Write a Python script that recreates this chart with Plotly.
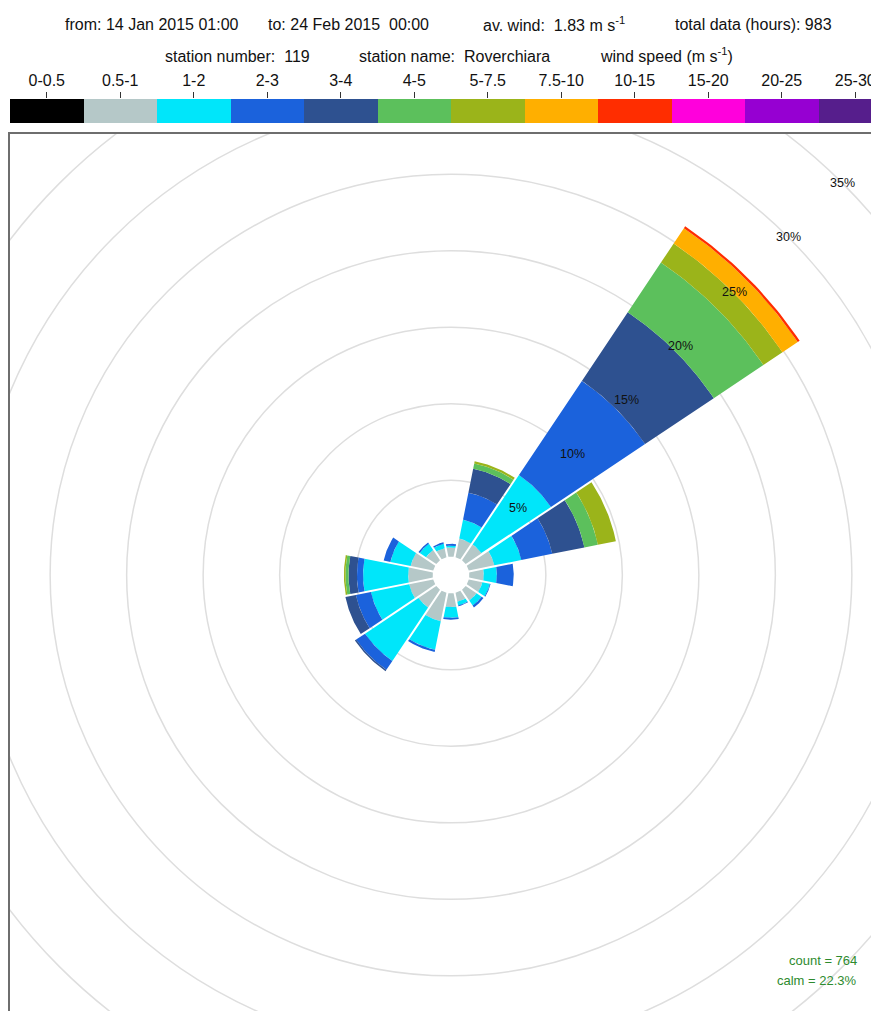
import math
import plotly.graph_objects as go

# ---------------- data ----------------
directions = [0.0, 22.5, 45.0, 67.5, 90.0, 112.5, 135.0, 157.5,
              180.0, 202.5, 225.0, 247.5, 270.0, 292.5, 315.0, 337.5]
speed_bins = ["0-0.5", "0.5-1", "1-2", "2-3", "3-4", "4-5",
              "5-7.5", "7.5-10", "10-15", "15-20", "20-25", "25-30"]
bin_colors = ["#000000", "#B5C8C8", "#00E6FA", "#1B62DC", "#2E5190", "#5CC05C",
              "#9BB41A", "#FFAF00", "#FF2D00", "#FF00DC", "#9600D2", "#561E8C"]

# percentage of time per direction (N, NNE, NE, ... NNW) for each speed bin
pct_0_0p5 =   [0.00, 0.00, 0.00, 0.00, 0.00, 0.00, 0.00, 0.00, 0.00, 0.00, 0.00, 0.00, 0.00, 0.00, 0.00, 0.00]
pct_0p5_1 =   [0.60, 1.24, 1.25, 1.70, 0.94, 0.90, 0.85, 0.60, 0.90, 1.90, 1.40, 1.60, 1.60, 1.50, 0.80, 0.60]
pct_1_2 =     [0.12, 1.26, 5.45, 1.80, 0.86, 0.50, 0.40, 0.25, 0.70, 1.90, 4.20, 2.55, 2.95, 1.35, 0.50, 0.30]
pct_2_3 =     [0.12, 1.80, 7.40, 2.06, 1.10, 0.05, 0.15, 0.05, 0.12, 0.15, 0.70, 1.00, 0.40, 0.45, 0.10, 0.10]
pct_3_4 =     [0.00, 1.60, 5.40, 2.14, 0.00, 0.00, 0.00, 0.00, 0.00, 0.00, 0.10, 0.70, 0.55, 0.00, 0.00, 0.00]
pct_4_5 =     [0.00, 0.35, 3.90, 0.90, 0.00, 0.00, 0.00, 0.00, 0.00, 0.00, 0.00, 0.00, 0.20, 0.00, 0.00, 0.00]
pct_5_7p5 =   [0.00, 0.15, 1.50, 1.20, 0.00, 0.00, 0.00, 0.00, 0.00, 0.00, 0.00, 0.00, 0.10, 0.00, 0.00, 0.00]
pct_7p5_10 =  [0.00, 0.00, 1.20, 0.00, 0.00, 0.00, 0.00, 0.00, 0.00, 0.00, 0.00, 0.00, 0.00, 0.00, 0.00, 0.00]
pct_10_15 =   [0.00, 0.00, 0.15, 0.00, 0.00, 0.00, 0.00, 0.00, 0.00, 0.00, 0.00, 0.00, 0.00, 0.00, 0.00, 0.00]
pct_15_20 =   [0.00, 0.00, 0.00, 0.00, 0.00, 0.00, 0.00, 0.00, 0.00, 0.00, 0.00, 0.00, 0.00, 0.00, 0.00, 0.00]
pct_20_25 =   [0.00, 0.00, 0.00, 0.00, 0.00, 0.00, 0.00, 0.00, 0.00, 0.00, 0.00, 0.00, 0.00, 0.00, 0.00, 0.00]
pct_25_30 =   [0.00, 0.00, 0.00, 0.00, 0.00, 0.00, 0.00, 0.00, 0.00, 0.00, 0.00, 0.00, 0.00, 0.00, 0.00, 0.00]

grid_pcts = [5, 10, 15, 20, 25, 30, 35]
count_text = "count = 764"
calm_text = "calm = 22.3%"

series = [pct_0_0p5, pct_0p5_1, pct_1_2, pct_2_3, pct_3_4, pct_4_5,
          pct_5_7p5, pct_7p5_10, pct_10_15, pct_15_20, pct_20_25, pct_25_30]

# ---------------- layout geometry (reference pixels) ----------------
OFF = 8                 # default body margin of the html page
FIG_W, FIG_H = 879 - OFF, 1011 - OFF
ML = 2
S = 15.3                # pixels per percent
HOLE = 1.2              # inner hole (percent units)
CX, CY = 451, 575       # rose centre
FRAME_L, FRAME_T = 10, 134
CB_T, CB_B = 99, 123
FONT = "Liberation Sans, Arial, Helvetica"


def paper_x(X):
    return (X - OFF - ML) / (FIG_W - ML)


def paper_y(Y):
    return 1 - (Y - OFF) / FIG_H


def wedge(theta_c, r_lo, r_hi, half=11.25, gap=0.065, n=30):
    def a(r):
        return half - math.degrees(math.asin(min(1.0, gap / r)))
    xs, ys = [], []
    ao, ai = a(r_hi), a(r_lo)
    for i in range(n + 1):
        t = math.radians(theta_c - ao + 2 * ao * i / n)
        xs.append(r_hi * math.sin(t)); ys.append(r_hi * math.cos(t))
    for i in range(n + 1):
        t = math.radians(theta_c + ai - 2 * ai * i / n)
        xs.append(r_lo * math.sin(t)); ys.append(r_lo * math.cos(t))
    xs.append(xs[0]); ys.append(ys[0])
    return xs, ys


fig = go.Figure()

cum = [0.0] * len(directions)
for b, vals in enumerate(series):
    xs, ys = [], []
    for d, th in enumerate(directions):
        v = vals[d]
        if v > 0:
            wx, wy = wedge(th, HOLE + cum[d], HOLE + cum[d] + v)
            xs += wx + [None]; ys += wy + [None]
        cum[d] += v
    if xs:
        fig.add_trace(go.Scatter(x=xs, y=ys, mode="lines", fill="toself",
                                 fillcolor=bin_colors[b],
                                 line=dict(width=0, color=bin_colors[b]),
                                 name=speed_bins[b], hoverinfo="skip",
                                 showlegend=False, xaxis="x", yaxis="y"))

# colour key as a bar strip
fig.add_trace(go.Bar(x=list(range(len(speed_bins))), y=[1] * len(speed_bins),
                     width=[1] * len(speed_bins), marker=dict(color=bin_colors, line=dict(width=0)),
                     xaxis="x2", yaxis="y2", showlegend=False, hoverinfo="skip"))

shapes = []
for k in grid_pcts:
    r = HOLE + k
    shapes.append(dict(type="circle", xref="x", yref="y", x0=-r, y0=-r, x1=r, y1=r,
                       line=dict(color="#DEDEDE", width=1.5), layer="below"))

annotations = []
s45 = math.sin(math.radians(45))
for k in grid_pcts:
    r = HOLE + k
    annotations.append(dict(x=r * s45, y=r * s45, xref="x", yref="y", text=f"{k}%",
                            showarrow=False, font=dict(size=12.5, color="#111111", family=FONT)))

hdr_font = dict(size=16, color="#111111", family=FONT)
header = [
    ("from: 14 Jan 2015 01:00", 152, 25),
    ("to: 24 Feb 2015\u00a0\u00a000:00", 348, 25),
    ("av. wind:\u00a0\u00a01.83 m s<sup>-1</sup>", 554, 24),
    ("total data (hours): 983", 753, 25),
    ("station number:\u00a0\u00a0119", 237, 56),
    ("station name:\u00a0\u00a0Roverchiara", 454, 56),
    ("wind speed (m s<sup>-1</sup>)", 666, 55),
]
for txt, X, Y in header:
    annotations.append(dict(x=paper_x(X), y=paper_y(Y), xref="paper", yref="paper",
                            text=txt, showarrow=False, xanchor="center", yanchor="middle",
                            font=hdr_font))

for txt, Y in [(count_text, 960), (calm_text, 980)]:
    annotations.append(dict(x=paper_x(859), y=paper_y(Y), xref="paper", yref="paper",
                            text=txt, showarrow=False, xanchor="right", yanchor="middle",
                            font=dict(size=13, color="#2E8B2E", family=FONT)))

W = FIG_W - ML
seg = 73.5
fig.update_layout(
    width=FIG_W, height=FIG_H,
    margin=dict(l=ML, r=0, t=0, b=0),
    paper_bgcolor="white", plot_bgcolor="white",
    showlegend=False,
    xaxis=dict(domain=[0, 1], range=[-(CX - FRAME_L) / S, (879 - CX) / S],
               showgrid=False, zeroline=False, showticklabels=False, ticks="",
               showline=True, side="top", linecolor="#6E6E6E", linewidth=2,
               fixedrange=True, anchor="y"),
    yaxis=dict(domain=[0, paper_y(FRAME_T)], range=[-(1011 - CY) / S, (CY - FRAME_T) / S],
               showgrid=False, zeroline=False, showticklabels=False, ticks="",
               showline=True, linecolor="#6E6E6E", linewidth=2,
               fixedrange=True, anchor="x"),
    xaxis2=dict(domain=[0, 1], anchor="y2", side="top",
                range=[-0.5, -0.5 + W / seg],
                tickmode="array", tickvals=list(range(len(speed_bins))), ticktext=speed_bins,
                ticks="outside", ticklen=6, tickcolor="#333333", tickwidth=1,
                tickfont=dict(size=16, color="#111111", family=FONT),
                showgrid=False, zeroline=False, showline=False, fixedrange=True),
    yaxis2=dict(domain=[paper_y(CB_B), paper_y(CB_T)], anchor="x2", range=[0, 1],
                visible=False, fixedrange=True),
    shapes=shapes,
    annotations=annotations,
    bargap=0,
)

fig.write_html("out.html")
